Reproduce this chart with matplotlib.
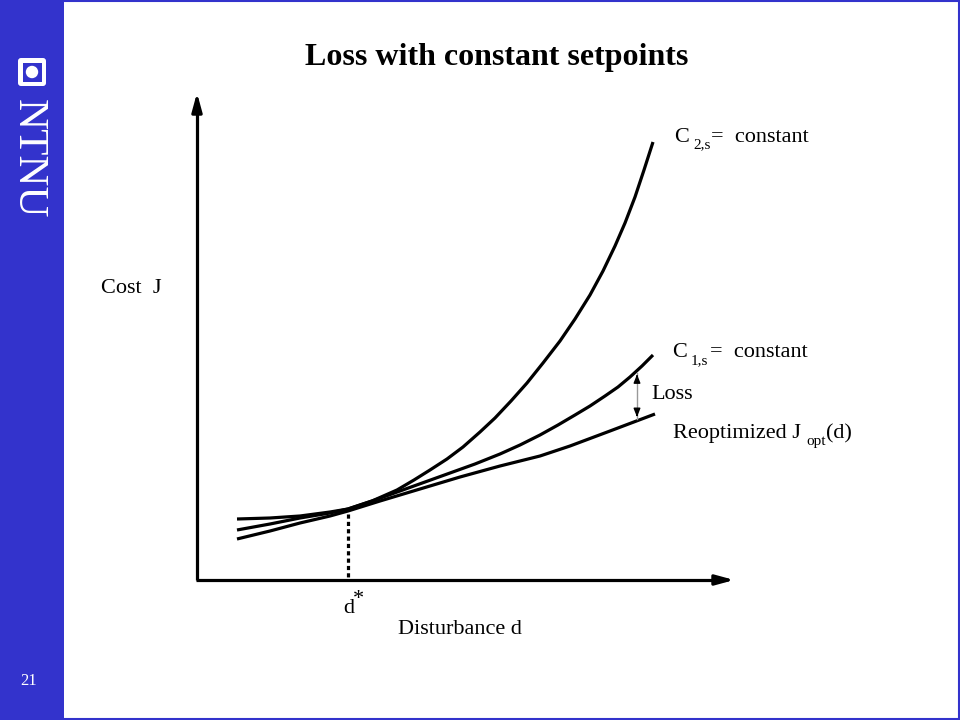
import matplotlib
matplotlib.use("Agg")
import matplotlib.pyplot as plt
from matplotlib.patches import Rectangle, Circle, FancyBboxPatch
import numpy as np

plt.rcParams['font.family'] = ['Liberation Serif', 'DejaVu Serif']

BLUE = '#3333CC'

# ---- data (in pixel-like units: x = disturbance, y = cost drawn downward) ----
d_c2 = [237, 270, 300, 330, 348, 372, 397, 414, 430, 447, 463, 480, 495, 511, 527, 543,
        560, 575, 590, 603, 615, 625, 635, 644, 653]
J_c2 = [519, 518, 516, 512, 509, 501, 490, 480, 470, 459, 447, 432, 418, 401, 383, 363,
        341, 319, 295, 271, 246, 223, 197, 170, 142]

d_c1 = [237, 270, 300, 330, 348, 375, 400, 425, 450, 475, 500, 520, 540, 558, 575, 590,
        605, 618, 630, 642, 653]
J_c1 = [530, 524, 518, 513, 509, 500, 491, 482, 473, 464, 454, 445, 435, 425, 415, 406,
        396, 387, 377, 366, 355]

d_opt = [237, 270, 300, 330, 348, 380, 420, 460, 500, 540, 570, 610, 655]
J_opt = [539, 531, 523, 516, 511, 501, 489, 477, 466, 456, 446, 431, 414]

d_star = 348
origin = (197, 580)
x_end = 737
y_end = 90

fig = plt.figure(figsize=(9.6, 7.2), dpi=100)
ax = fig.add_axes([0, 0, 1, 1])
ax.set_xlim(0, 960)
ax.set_ylim(720, 0)
ax.axis('off')

# sidebar
ax.add_patch(Rectangle((0, 0), 64, 720, facecolor=BLUE, edgecolor='none', zorder=1))
# frame
ax.add_patch(Rectangle((0.5, 1), 958, 717.5, facecolor='none', edgecolor=BLUE, lw=1.5, zorder=1))

# logo
ax.add_patch(FancyBboxPatch((18, 58), 28, 28, boxstyle='round,pad=0,rounding_size=3',
                            facecolor='white', edgecolor='none', zorder=2))
ax.add_patch(Rectangle((22.5, 62.5), 19, 19, facecolor=BLUE, edgecolor='none', zorder=3))
ax.add_patch(Circle((32, 72), 6.2, facecolor='white', edgecolor='none', zorder=4))
ax.text(28, 99, 'NTNU', rotation=-90, color='white', fontsize=31, ha='center', va='top',
        fontweight='light')
ax.text(29, 681, '21', color='white', fontsize=12, ha='center', va='center')

# title
ax.text(497, 58, 'Loss with constant setpoints', fontsize=23, fontweight='bold',
        ha='center', va='center')

LW = 2.3
# axes with arrows
ax.plot([origin[0], origin[0]], [origin[1], y_end + 12], color='black', lw=LW, solid_capstyle='butt')
ax.annotate('', xy=(origin[0], y_end), xytext=(origin[0], y_end + 20),
            arrowprops=dict(arrowstyle='-|>,head_length=1.1,head_width=0.3', color='black', lw=LW))
ax.plot([origin[0] - 1, x_end - 12], [origin[1], origin[1]], color='black', lw=LW, solid_capstyle='butt')
ax.annotate('', xy=(x_end, origin[1]), xytext=(x_end - 20, origin[1]),
            arrowprops=dict(arrowstyle='-|>,head_length=1.1,head_width=0.3', color='black', lw=LW))

# curves
for dx, jy in ((d_c2, J_c2), (d_c1, J_c1), (d_opt, J_opt)):
    ax.plot(dx, jy, color='black', lw=LW, solid_capstyle='butt', solid_joinstyle='round')

# d* dotted line
ax.plot([d_star, d_star], [514, origin[1]], color='black', lw=LW, linestyle=(0, (1.3, 1.0)))

# loss arrow
x_loss = 637
y_top = np.interp(x_loss, d_c1, J_c1)
y_bot = np.interp(x_loss, d_opt, J_opt)
ax.plot([x_loss, x_loss], [y_top + 2, y_bot - 2], color='#999999', lw=1.0)
ax.annotate('', xy=(x_loss, y_top + 1), xytext=(x_loss, y_top + 9),
            arrowprops=dict(arrowstyle='-|>,head_length=0.5,head_width=0.2', color='black', lw=1.0))
ax.annotate('', xy=(x_loss, y_bot - 1), xytext=(x_loss, y_bot - 9),
            arrowprops=dict(arrowstyle='-|>,head_length=0.5,head_width=0.2', color='black', lw=1.0))

FS = 16
SFS = 11
# labels
ax.text(674, 142, 'C', fontsize=FS, ha='left', va='baseline')
ax.text(693, 148, '2,s', fontsize=SFS, ha='left', va='baseline')
ax.text(711, 142, '=  constant', fontsize=FS, ha='left', va='baseline')

ax.text(672, 357, 'C', fontsize=FS, ha='left', va='baseline')
ax.text(691, 364, '1,s', fontsize=SFS, ha='left', va='baseline')
ax.text(710, 357, '=  constant', fontsize=FS, ha='left', va='baseline')

ax.text(651, 399, 'Loss', fontsize=FS, ha='left', va='baseline')

ax.text(673, 438, 'Reoptimized J', fontsize=FS, ha='left', va='baseline')
ax.text(806, 445, 'opt', fontsize=SFS, ha='left', va='baseline')
ax.text(826, 438, '(d)', fontsize=FS, ha='left', va='baseline')

ax.text(101, 293, 'Cost  J', fontsize=FS, ha='left', va='baseline')
ax.text(343, 613, 'd', fontsize=FS, ha='left', va='baseline')
ax.text(353, 604, '*', fontsize=FS, ha='left', va='baseline')
ax.text(398, 634, 'Disturbance d', fontsize=FS, ha='left', va='baseline')

fig.savefig('out.png', dpi=100)
